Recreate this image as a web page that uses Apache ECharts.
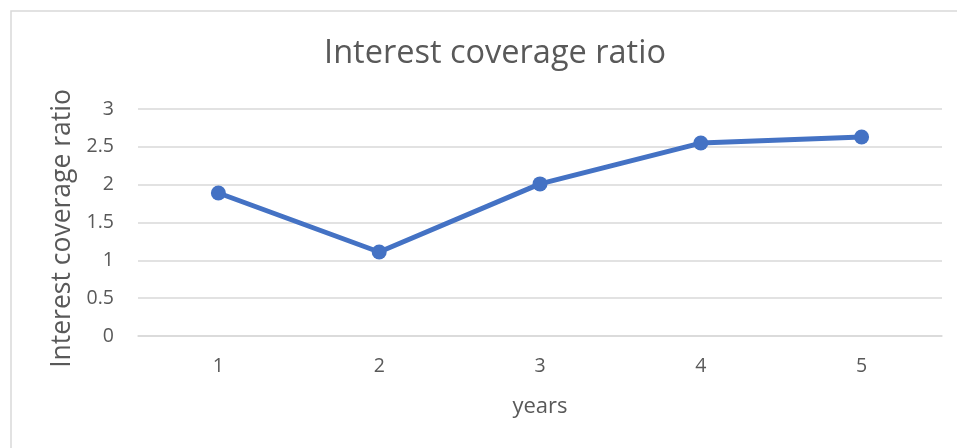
<!DOCTYPE html>
<html>
<head>
<meta charset="utf-8">
<style>
  html, body { margin: 0; padding: 0; background: #ffffff; }
  #chart { width: 957px; height: 448px; }
</style>
<script src="https://cdn.jsdelivr.net/npm/echarts@6/dist/echarts.min.js"></script>
</head>
<body>
<div id="chart"></div>
<script>
// Years on the horizontal axis and the ratio for each year
const years = ['1', '2', '3', '4', '5'];
const coverageRatio = [1.89, 1.11, 2.01, 2.55, 2.63];
const yTicks = { min: 0, max: 3, interval: 0.5 };

const FONT = '"Open Sans", "Noto Sans", sans-serif';
const TEXT = '#595959';
const GRIDLINE = '#d9d9d9';

const chart = echarts.init(document.getElementById('chart'), null, { renderer: 'canvas' });

chart.setOption({
  backgroundColor: '#ffffff',
  animation: false,
  title: {
    text: 'Interest coverage ratio',
    left: 490,
    top: 32,
    textAlign: 'center',
    textStyle: { fontFamily: FONT, fontSize: 32.5, fontWeight: 'normal', color: TEXT }
  },
  graphic: [{
    type: 'rect',
    shape: { x: 11, y: 11, width: 1000, height: 500 },
    style: { fill: 'none', stroke: GRIDLINE, lineWidth: 1.5 },
    silent: true
  }],
  grid: { left: 138, right: 15, top: 109, bottom: 112, containLabel: false },
  xAxis: {
    type: 'category',
    data: years,
    boundaryGap: true,
    name: 'years',
    nameLocation: 'middle',
    nameGap: 60,
    nameTextStyle: { fontFamily: FONT, fontSize: 22, color: TEXT },
    axisLine: { show: true, lineStyle: { color: GRIDLINE, width: 1.5 } },
    axisTick: { show: false },
    axisLabel: { fontFamily: FONT, fontSize: 19.5, color: TEXT, margin: 20 }
  },
  yAxis: {
    type: 'value',
    min: yTicks.min,
    max: yTicks.max,
    interval: yTicks.interval,
    name: 'Interest coverage ratio',
    nameLocation: 'middle',
    nameGap: 60,
    nameTextStyle: { fontFamily: FONT, fontSize: 26.5, color: TEXT, padding: [0, 12, 0, 0] },
    axisLine: { show: false },
    axisTick: { show: false },
    splitLine: { lineStyle: { color: GRIDLINE, width: 1.5 } },
    axisLabel: { fontFamily: FONT, fontSize: 19.5, color: TEXT, margin: 24 }
  },
  series: [{
    type: 'line',
    data: coverageRatio,
    symbol: 'circle',
    symbolSize: 15,
    lineStyle: { color: '#4472c4', width: 5 },
    itemStyle: { color: '#4472c4' }
  }]
});
</script>
</body>
</html>
